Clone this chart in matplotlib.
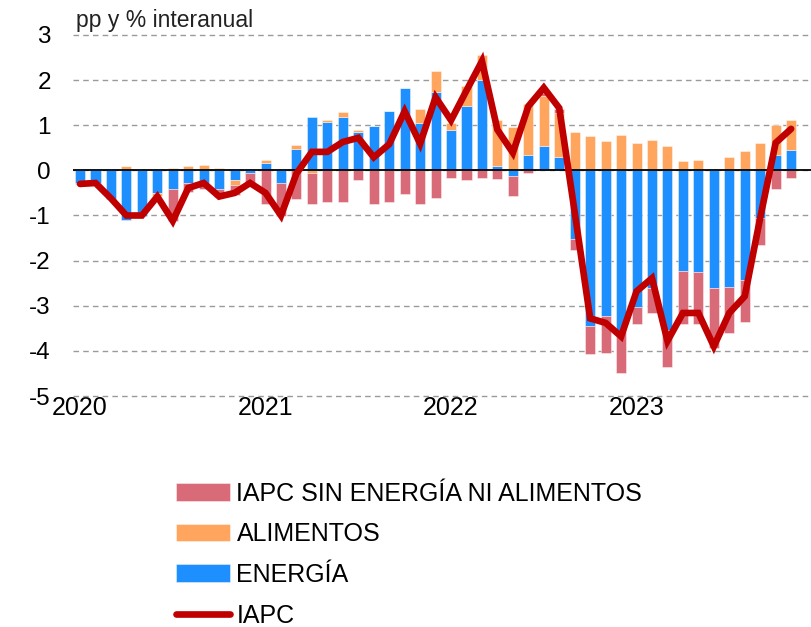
import numpy as np
import matplotlib
matplotlib.use("Agg")
from matplotlib import pyplot as plt

plt.rcParams['font.family'] = ['Liberation Sans', 'DejaVu Sans']

# datos mensuales ene-2020 .. nov-2023 (pp y % interanual)
energia = [-0.27, -0.28, -0.63, -1.09, -1.02, -0.50, -0.42, -0.28, -0.28, -0.41, -0.22, -0.05,
           0.16, -0.27, 0.47, 1.18, 1.08, 1.18, 0.86, 0.98, 1.31, 1.83, 1.06, 1.73,
           0.89, 1.43, 2.00, 0.09, -0.12, 0.33, 0.53, 0.30, -1.52, -3.44, -3.22, -3.55,
           -3.02, -2.61, -3.53, -2.22, -2.25, -2.61, -2.58, -2.44, -1.06, 0.35, 0.46]
alimentos = [0.00, 0.00, 0.01, 0.09, 0.02, -0.07, 0.05, 0.09, 0.12, 0.05, -0.10, 0.02,
             0.08, 0.04, 0.09, -0.05, 0.04, 0.12, 0.04, 0.00, 0.00, 0.00, 0.30, 0.48,
             0.16, 0.45, 0.56, 1.03, 0.96, 1.13, 1.11, 0.97, 0.84, 0.77, 0.66, 0.79,
             0.61, 0.68, 0.55, 0.21, 0.23, 0.04, 0.29, 0.42, 0.61, 0.66, 0.65]
subyacente = [-0.04, -0.02, 0.00, 0.00, 0.00, 0.00, -0.71, -0.19, -0.13, -0.17, -0.22, -0.27,
              -0.74, -0.75, -0.64, -0.69, -0.71, -0.70, -0.22, -0.74, -0.70, -0.52, -0.74, -0.61,
              -0.17, -0.21, -0.16, -0.19, -0.44, -0.05, 0.08, 0.08, -0.24, -0.63, -0.83, -0.94,
              -0.38, -0.55, -0.82, -1.18, -1.15, -1.33, -1.02, -0.91, -0.59, -0.41, -0.18]
iapc = [-0.30, -0.28, -0.62, -1.00, -1.00, -0.58, -1.12, -0.39, -0.28, -0.58, -0.50, -0.28,
        -0.50, -1.00, -0.07, 0.41, 0.41, 0.63, 0.72, 0.29, 0.58, 1.31, 0.59, 1.62,
        1.11, 1.77, 2.42, 0.90, 0.39, 1.42, 1.83, 1.38, -0.93, -3.28, -3.38, -3.68,
        -2.68, -2.39, -3.78, -3.16, -3.16, -3.90, -3.16, -2.79, -1.05, 0.61, 0.92]
anios = ["2020", "2021", "2022", "2023"]

series = [("ENERGÍA", energia, "#1e8fff"),
          ("ALIMENTOS", alimentos, "#ffa55e"),
          ("IAPC SIN ENERGÍA NI ALIMENTOS", subyacente, "#d96b79")]

x = np.arange(len(iapc))

fig = plt.figure(figsize=(8.12, 6.27), dpi=100)
ax = fig.add_axes([0.09, 0.3684, 0.91, 0.5758])

pos = np.zeros(len(x))
neg = np.zeros(len(x))
handles = {}
for nombre, vals, color in series:
    v = np.array(vals)
    base = np.where(v >= 0, pos, neg)
    b = ax.bar(x, v, width=0.65, bottom=base, color=color,
               edgecolor=(1, 1, 1, 0.5), linewidth=0.6, zorder=3)
    handles[nombre] = b
    pos = pos + np.clip(v, 0, None)
    neg = neg + np.clip(v, None, 0)

linea, = ax.plot(x, iapc, color="#c00000", lw=4.8, zorder=5,
                 solid_joinstyle="miter", solid_capstyle="round")

ax.axhline(0, color="black", lw=1.3, zorder=4)
ax.set_ylim(-5, 3)
ax.set_xlim(-0.45, 47.35)
ax.set_yticks(range(-5, 4))
ax.set_yticklabels([str(i) for i in range(-5, 4)], fontsize=17.5)
ax.set_xticks([0, 12, 24, 36])
ax.set_xticklabels(anios, fontsize=18)
ax.tick_params(length=0, pad=0)
ax.tick_params(axis="y", pad=16)
ax.grid(axis="y", linestyle=(0, (4, 3)), color="#9a9a9a", lw=1.0, zorder=0)
for gl in ax.get_ygridlines():
    gl.set_clip_on(False)
for s in ax.spines.values():
    s.set_visible(False)

fig.text(0.094, 0.968, "pp y % interanual", fontsize=16.5, va="center", ha="left",
         color="#222222")

# leyenda
fig.legend([handles["IAPC SIN ENERGÍA NI ALIMENTOS"], handles["ALIMENTOS"],
            handles["ENERGÍA"], linea],
           ["IAPC SIN ENERGÍA NI ALIMENTOS", "ALIMENTOS", "ENERGÍA", "IAPC"],
           loc="upper left", bbox_to_anchor=(0.217, 0.232), frameon=False,
           fontsize=18, handlelength=2.16, handleheight=0.72,
           handletextpad=0.25, labelspacing=0.67, borderaxespad=0, borderpad=0)

plt.savefig("out.png", dpi=100)
